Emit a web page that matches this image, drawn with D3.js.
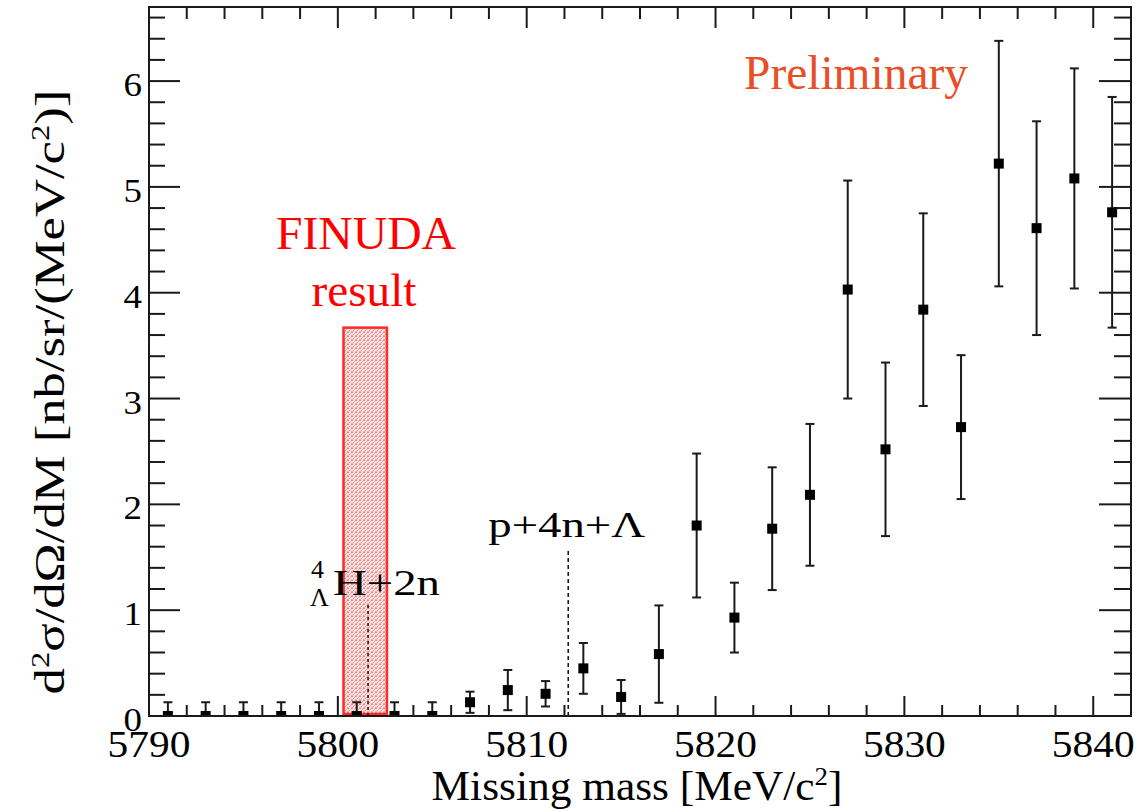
<!DOCTYPE html>
<html>
<head>
<meta charset="utf-8">
<script src="https://cdn.jsdelivr.net/npm/d3@7/dist/d3.min.js"></script>
<style>
  html, body { margin: 0; padding: 0; background: #fff; }
  svg { display: block; }
  svg text { font-family: "Times New Roman", "Liberation Serif", Tinos, Times, serif; }
</style>
</head>
<body>
<svg id="chart" width="1138" height="812" font-family="Liberation Serif, Times New Roman, serif"></svg>
<script>
// Missing-mass bin centres [MeV/c^2]
const mass = [5791, 5793, 5795, 5797, 5799, 5801, 5803, 5805, 5807, 5809, 5811, 5813, 5815,
              5817, 5819, 5821, 5823, 5825, 5827, 5829, 5831, 5833, 5835, 5837, 5839, 5841];
// Double-differential cross section [nb/sr/(MeV/c^2)] and its statistical error
const xsec = [0, 0, 0, 0, 0, 0, 0, 0, 0.13, 0.245, 0.21, 0.45, 0.18,
              0.585, 1.80, 0.93, 1.77, 2.09, 4.03, 2.52, 3.84, 2.73, 5.22, 4.61, 5.08, 4.76];
const xsecErr = [0.13, 0.13, 0.13, 0.13, 0.13, 0.13, 0.13, 0.13, 0.10, 0.19, 0.12, 0.24, 0.16,
                 0.46, 0.68, 0.33, 0.58, 0.67, 1.03, 0.82, 0.91, 0.68, 1.16, 1.01, 1.04, 1.09];

// Axis ranges and labelled ticks
const xDomain = [5790, 5842];
const yDomain = [0, 6.7];
const xTickLabels = [5790, 5800, 5810, 5820, 5830, 5840];
const yTickLabels = [0, 1, 2, 3, 4, 5, 6];

// Breakup thresholds: 4ΛH+2n and p+4n+Λ
const thresholdMass = [5801.6, 5812.2];
const thresholdTop = [1.05, 1.585];

// FINUDA band (mass range and height)
const finudaMass = [5800.3, 5802.6];
const finudaTop = 3.67;

const svg = d3.select("#chart");
const frame = { left: 149, right: 1131, top: 7, bottom: 716 };

const x = d3.scaleLinear().domain(xDomain).range([frame.left, frame.right]);
const y = d3.scaleLinear().domain(yDomain).range([frame.bottom, frame.top]);

const ink = "#1a1a1a";

// stippled fill for the FINUDA band
const defs = svg.append("defs");
const pat = defs.append("pattern")
  .attr("id", "stipple").attr("patternUnits", "userSpaceOnUse")
  .attr("width", 4).attr("height", 4);
pat.append("rect").attr("width", 4).attr("height", 4).attr("fill", "#fde6e6");
[[0, 0], [2, 1], [1, 2], [3, 3], [3, 0], [0, 3]].forEach(([px, py], k) => {
  pat.append("rect").attr("x", px).attr("y", py).attr("width", 1).attr("height", 1)
    .attr("fill", k % 2 ? "#f6a0a0" : "#f28080");
});

defs.append("clipPath").attr("id", "plotClip")
  .append("rect")
  .attr("x", frame.left).attr("y", frame.top)
  .attr("width", frame.right - frame.left).attr("height", frame.bottom - frame.top);

// horizontal fitting of a text element to a given width
function fitText(textSel, width) {
  const n = textSel.node().getComputedTextLength();
  return width / n;
}
function placeText(g, px, py, s) {
  g.attr("transform", `translate(${px},${py}) scale(${s},1)`);
}

// ---- ticks (all inward, mirrored on top and right) ----
const axes = svg.append("g").attr("stroke", ink).attr("stroke-width", 2);
const xMinor = d3.range(xDomain[0], xDomain[1] + 0.001, 2);
const yMinor = d3.range(0, yDomain[1] + 0.001, 0.2).map(v => +v.toFixed(1));

function isMajorX(v) { return xTickLabels.includes(v); }
function isMajorY(v) { return yTickLabels.includes(Math.round(v * 10) / 10); }

axes.selectAll("line.xb").data(xMinor).join("line")
  .attr("x1", d => x(d)).attr("x2", d => x(d))
  .attr("y1", frame.bottom).attr("y2", d => frame.bottom - (isMajorX(d) ? 20 : 11));
axes.selectAll("line.xt").data(xMinor).join("line")
  .attr("x1", d => x(d)).attr("x2", d => x(d))
  .attr("y1", frame.top).attr("y2", d => frame.top + (isMajorX(d) ? 21 : 12));
axes.selectAll("line.yl").data(yMinor).join("line")
  .attr("y1", d => y(d)).attr("y2", d => y(d))
  .attr("x1", frame.left).attr("x2", d => frame.left + (isMajorY(d) ? 31 : 16));
axes.selectAll("line.yr").data(yMinor).join("line")
  .attr("y1", d => y(d)).attr("y2", d => y(d))
  .attr("x1", frame.right).attr("x2", d => frame.right - (isMajorY(d) ? 32 : 17));

// ---- FINUDA band ----
svg.append("rect")
  .attr("x", x(finudaMass[0])).attr("y", y(finudaTop))
  .attr("width", x(finudaMass[1]) - x(finudaMass[0]))
  .attr("height", y(0) - y(finudaTop) - 2)
  .attr("fill", "url(#stipple)")
  .attr("stroke", "#ff2a2a").attr("stroke-width", 2.5);

// ---- threshold lines ----
svg.selectAll("line.thr").data(thresholdMass).join("line")
  .attr("x1", d => x(d)).attr("x2", d => x(d))
  .attr("y1", y(0)).attr("y2", (d, i) => y(thresholdTop[i]))
  .attr("stroke", ink).attr("stroke-width", 1.6)
  .attr("stroke-dasharray", (d, i) => i === 0 ? "3,3" : "4,3");

// ---- data: error bars and square markers ----
const pts = svg.append("g").attr("clip-path", "url(#plotClip)");
const data = mass.map((m, i) => ({ m, v: xsec[i], e: xsecErr[i] }));
pts.selectAll("line.err").data(data).join("line")
  .attr("x1", d => x(d.m)).attr("x2", d => x(d.m))
  .attr("y1", d => y(d.v - d.e)).attr("y2", d => y(d.v + d.e))
  .attr("stroke", ink).attr("stroke-width", 2);
pts.selectAll("line.capHi").data(data).join("line")
  .attr("x1", d => x(d.m) - 4.5).attr("x2", d => x(d.m) + 4.5)
  .attr("y1", d => y(d.v + d.e)).attr("y2", d => y(d.v + d.e))
  .attr("stroke", ink).attr("stroke-width", 2);
pts.selectAll("line.capLo").data(data).join("line")
  .attr("x1", d => x(d.m) - 4.5).attr("x2", d => x(d.m) + 4.5)
  .attr("y1", d => y(d.v - d.e)).attr("y2", d => y(d.v - d.e))
  .attr("stroke", ink).attr("stroke-width", 2);
pts.selectAll("rect.pt").data(data).join("rect")
  .attr("x", d => x(d.m) - 5).attr("y", d => y(d.v) - 5)
  .attr("width", 10).attr("height", 10)
  .attr("fill", "#000");

// ---- frame ----
svg.append("rect")
  .attr("x", frame.left).attr("y", frame.top)
  .attr("width", frame.right - frame.left).attr("height", frame.bottom - frame.top)
  .attr("fill", "none").attr("stroke", ink).attr("stroke-width", 2);

// ---- tick labels ----
const tickStretch = 1.12;
svg.append("g").selectAll("g").data(xTickLabels).join("g")
  .each(function (d) {
    const g = d3.select(this);
    g.append("text").attr("text-anchor", "middle").attr("font-size", 37).attr("fill", "#000").text(d);
    placeText(g, x(d), frame.bottom + 41, tickStretch);
  });
svg.append("g").selectAll("g").data(yTickLabels).join("g")
  .each(function (d) {
    const g = d3.select(this);
    g.append("text").attr("text-anchor", "end").attr("font-size", 33).attr("fill", "#000").text(d);
    placeText(g, 142, y(d) + 15, tickStretch);
  });

// ---- axis titles ----
{
  const g = svg.append("g");
  const t = g.append("text").attr("text-anchor", "middle").attr("font-size", 42).attr("fill", "#000");
  t.append("tspan").text("Missing mass [MeV/c");
  t.append("tspan").attr("dy", -15).attr("font-size", 26).text("2");
  t.append("tspan").attr("dy", 15).text("]");
  placeText(g, 637, 800, fitText(t, 411));
}
{
  const g = svg.append("g");
  const t = g.append("text").attr("text-anchor", "middle").attr("font-size", 42).attr("fill", "#000");
  t.append("tspan").text("d");
  t.append("tspan").attr("dy", -15).attr("font-size", 26).text("2");
  t.append("tspan").attr("dy", 15).text("σ/dΩ/dM [nb/sr/(MeV/c");
  t.append("tspan").attr("dy", -15).attr("font-size", 26).text("2");
  t.append("tspan").attr("dy", 15).text(")]");
  const s = fitText(t, 605);
  g.attr("transform", `translate(64,392) rotate(-90) scale(${s},1)`);
}

// ---- threshold labels ----
{
  const g = svg.append("g");
  g.append("text").attr("x", x(thresholdMass[0]) - 57).attr("y", 578).attr("font-size", 26).text("4");
  g.append("text").attr("x", x(thresholdMass[0]) - 58).attr("y", 606).attr("font-size", 26).text("Λ");
  const gh = g.append("g");
  const t = gh.append("text").attr("font-size", 36).attr("fill", "#000").text("H+2n");
  placeText(gh, x(thresholdMass[0]) - 35, 595, fitText(t, 107));
}
{
  const g = svg.append("g");
  const t = g.append("text").attr("font-size", 36).attr("fill", "#000").text("p+4n+Λ");
  placeText(g, x(thresholdMass[1]) - 80, 537, fitText(t, 157));
}

// ---- annotations ----
{
  const g = svg.append("g");
  const t = g.append("text").attr("font-size", 48).attr("fill", "#e94e28").text("Preliminary");
  placeText(g, 744, 89, fitText(t, 224));
}
{
  const g1 = svg.append("g");
  const t1 = g1.append("text").attr("text-anchor", "middle").attr("font-size", 46).attr("fill", "#ff0000").text("FINUDA");
  placeText(g1, 366, 249, fitText(t1, 180));
  const g2 = svg.append("g");
  const t2 = g2.append("text").attr("text-anchor", "middle").attr("font-size", 46).attr("fill", "#ff0000").text("result");
  placeText(g2, 364, 306, fitText(t2, 105));
}
</script>
</body>
</html>
